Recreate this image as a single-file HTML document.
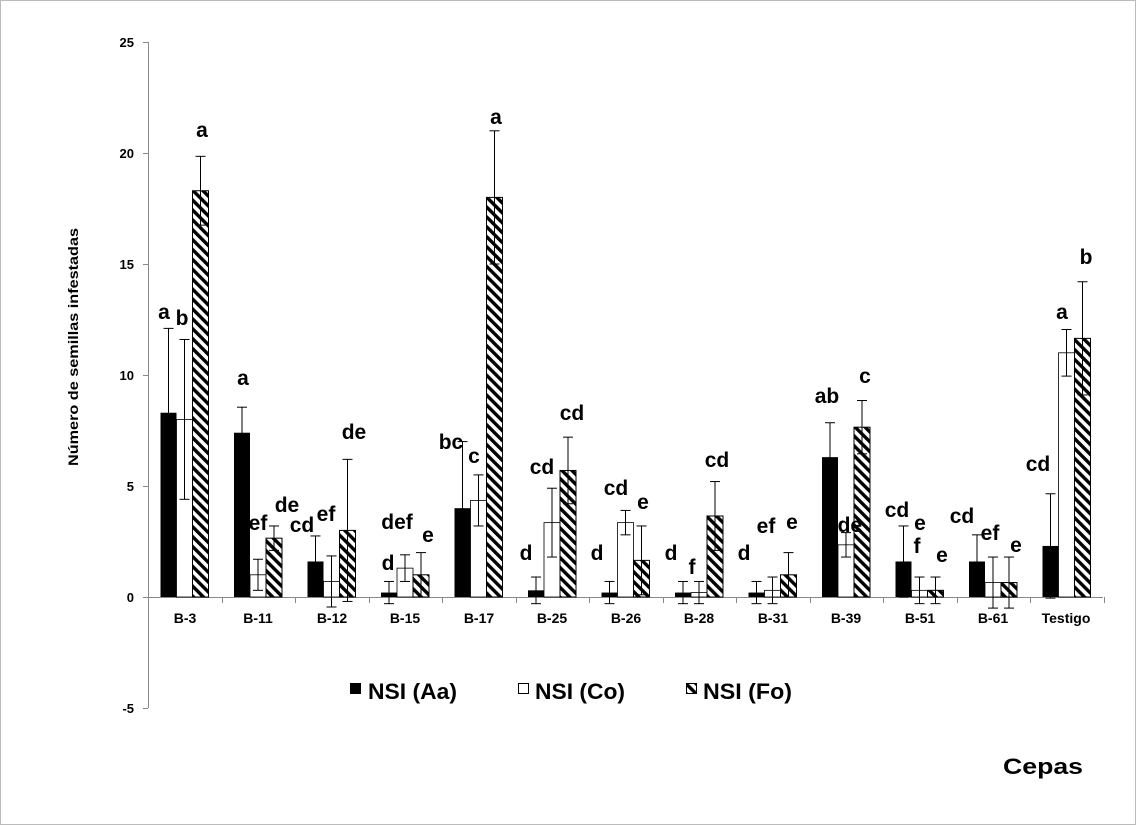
<!DOCTYPE html>
<html><head><meta charset="utf-8"><style>
html,body{margin:0;padding:0;background:#fff}
svg{display:block;font-family:"Liberation Sans",Arial,sans-serif;font-weight:bold}
</style></head><body>
<svg id="c" width="1136" height="825" viewBox="0 0 1136 825" xmlns="http://www.w3.org/2000/svg">
<defs>
<pattern id="h" patternUnits="userSpaceOnUse" width="7" height="7" patternTransform="rotate(-45)">
<rect width="7" height="7" fill="#fff"/><rect width="3.4" height="7" fill="#000"/>
</pattern>
</defs>
<rect x="0.5" y="0.5" width="1135" height="824" fill="#fff" stroke="#bbb"/>
<g id="axes" stroke="#888" stroke-width="1"></g>
<g id="bars"></g>
<g font-size="13" text-anchor="end" fill="#000">
<text x="134" y="47">25</text><text x="134" y="158">20</text><text x="134" y="269">15</text>
<text x="134" y="380">10</text><text x="134" y="491">5</text><text x="134" y="602">0</text><text x="134" y="713">-5</text>
</g>
<text transform="translate(78,347) rotate(-90)" font-size="14" text-anchor="middle" textLength="238" lengthAdjust="spacingAndGlyphs">Número de semillas infestadas</text>
<g font-size="14" text-anchor="middle">
<text x="185" y="623">B-3</text><text x="258" y="623">B-11</text><text x="332" y="623">B-12</text>
<text x="405" y="623">B-15</text><text x="479" y="623">B-17</text><text x="552" y="623">B-25</text>
<text x="626" y="623">B-26</text><text x="699" y="623">B-28</text><text x="773" y="623">B-31</text>
<text x="846" y="623">B-39</text><text x="920" y="623">B-51</text><text x="993" y="623">B-61</text>
<text x="1066" y="623">Testigo</text>
</g>
<g font-size="21" text-anchor="middle">
<text x="164" y="319">a</text><text x="182" y="325">b</text><text x="202" y="137">a</text>
<text x="243" y="385">a</text><text x="258" y="530">ef</text><text x="287" y="512">de</text>
<text x="302" y="532">cd</text><text x="326" y="521">ef</text><text x="354" y="439">de</text>
<text x="388" y="570">d</text><text x="397" y="529">def</text><text x="428" y="542">e</text>
<text x="451" y="449">bc</text><text x="474" y="463">c</text><text x="496" y="124">a</text>
<text x="526" y="560">d</text><text x="542" y="474">cd</text><text x="572" y="420">cd</text>
<text x="597" y="560">d</text><text x="616" y="495">cd</text><text x="643" y="509">e</text>
<text x="671" y="560">d</text><text x="692" y="574">f</text><text x="717" y="467">cd</text>
<text x="744" y="560">d</text><text x="766" y="533">ef</text><text x="792" y="529">e</text>
<text x="827" y="403">ab</text><text x="844" y="532">cde</text><text x="865" y="383">c</text>
<text x="897" y="517">cd</text><text x="920" y="530">e</text><text x="917" y="553">f</text><text x="942" y="562">e</text>
<text x="962" y="523">cd</text><text x="990" y="540">ef</text><text x="1016" y="552">e</text>
<text x="1038" y="471">cd</text><text x="1062" y="319">a</text><text x="1086" y="264">b</text>
</g>
<rect x="350" y="683" width="11" height="11" fill="#000"/>
<rect x="518.5" y="683.5" width="10" height="10" fill="#fff" stroke="#000"/>
<rect x="686.5" y="683.5" width="10" height="10" fill="url(#h)" stroke="#000"/>
<g font-size="22">
<text x="368" y="699" textLength="89" lengthAdjust="spacingAndGlyphs">NSI (Aa)</text>
<text x="535" y="699" textLength="90" lengthAdjust="spacingAndGlyphs">NSI (Co)</text>
<text x="703" y="699" textLength="89" lengthAdjust="spacingAndGlyphs">NSI (Fo)</text>
<text x="1003" y="774" textLength="80" lengthAdjust="spacingAndGlyphs">Cepas</text></g>
</svg>
<script>
var ns="http://www.w3.org/2000/svg";
function el(p,t,a){var e=document.createElementNS(ns,t);for(var k in a)e.setAttribute(k,a[k]);p.appendChild(e);return e;}
var ax=document.getElementById("axes"),bg=document.getElementById("bars");
function Y(v){return 597-v*22.2;}
el(ax,"line",{x1:148.5,y1:42,x2:148.5,y2:708});
for(var v=-5;v<=25;v+=5)el(ax,"line",{x1:143,y1:Y(v)+.5,x2:148,y2:Y(v)+.5});
el(ax,"line",{x1:148,y1:597.5,x2:1103,y2:597.5});
for(var i=0;i<=13;i++){var x=Math.round(148+i*73.5)+.5;el(ax,"line",{x1:x,y1:597,x2:x,y2:603});}
var d=[
[[8.3,3.8],[8.0,3.6],[18.3,1.55]],
[[7.4,1.15],[1.0,0.7],[2.65,0.55]],
[[1.6,1.15],[0.7,1.15],[3.0,3.2]],
[[0.2,0.5],[1.3,0.6],[1.0,1.0]],
[[4.0,3.0],[4.35,1.15],[18.0,3.0]],
[[0.3,0.6],[3.35,1.55],[5.7,1.5]],
[[0.2,0.5],[3.35,0.55],[1.65,1.55]],
[[0.2,0.5],[0.2,0.5],[3.65,1.55]],
[[0.2,0.5],[0.3,0.6],[1.0,1.0]],
[[6.3,1.55],[2.35,0.55],[7.65,1.2]],
[[1.6,1.6],[0.3,0.6],[0.3,0.6]],
[[1.6,1.2],[0.65,1.15],[0.65,1.15]],
[[2.3,2.35],[11.0,1.05],[11.65,2.55]]];
var fills=["#000","#fff","url(#h)"];
d.forEach(function(g,i){var c=148+i*73.5+36.5;
g.forEach(function(b,j){var x=c-24+j*16,y=Y(b[0]);
el(bg,"rect",{x:x,y:y,width:16,height:597-y,fill:fills[j],stroke:j==0?"none":"#000","stroke-width":j==1?0.8:1});
var xm=x+8,t=Y(b[0]+b[1]),bo=Y(b[0]-b[1]);
el(bg,"line",{x1:xm,y1:t,x2:xm,y2:bo,stroke:"#000"});
el(bg,"line",{x1:xm-5,y1:t,x2:xm+5,y2:t,stroke:"#000"});
el(bg,"line",{x1:xm-5,y1:bo,x2:xm+5,y2:bo,stroke:"#000"});
});});
</script>
</body></html>
